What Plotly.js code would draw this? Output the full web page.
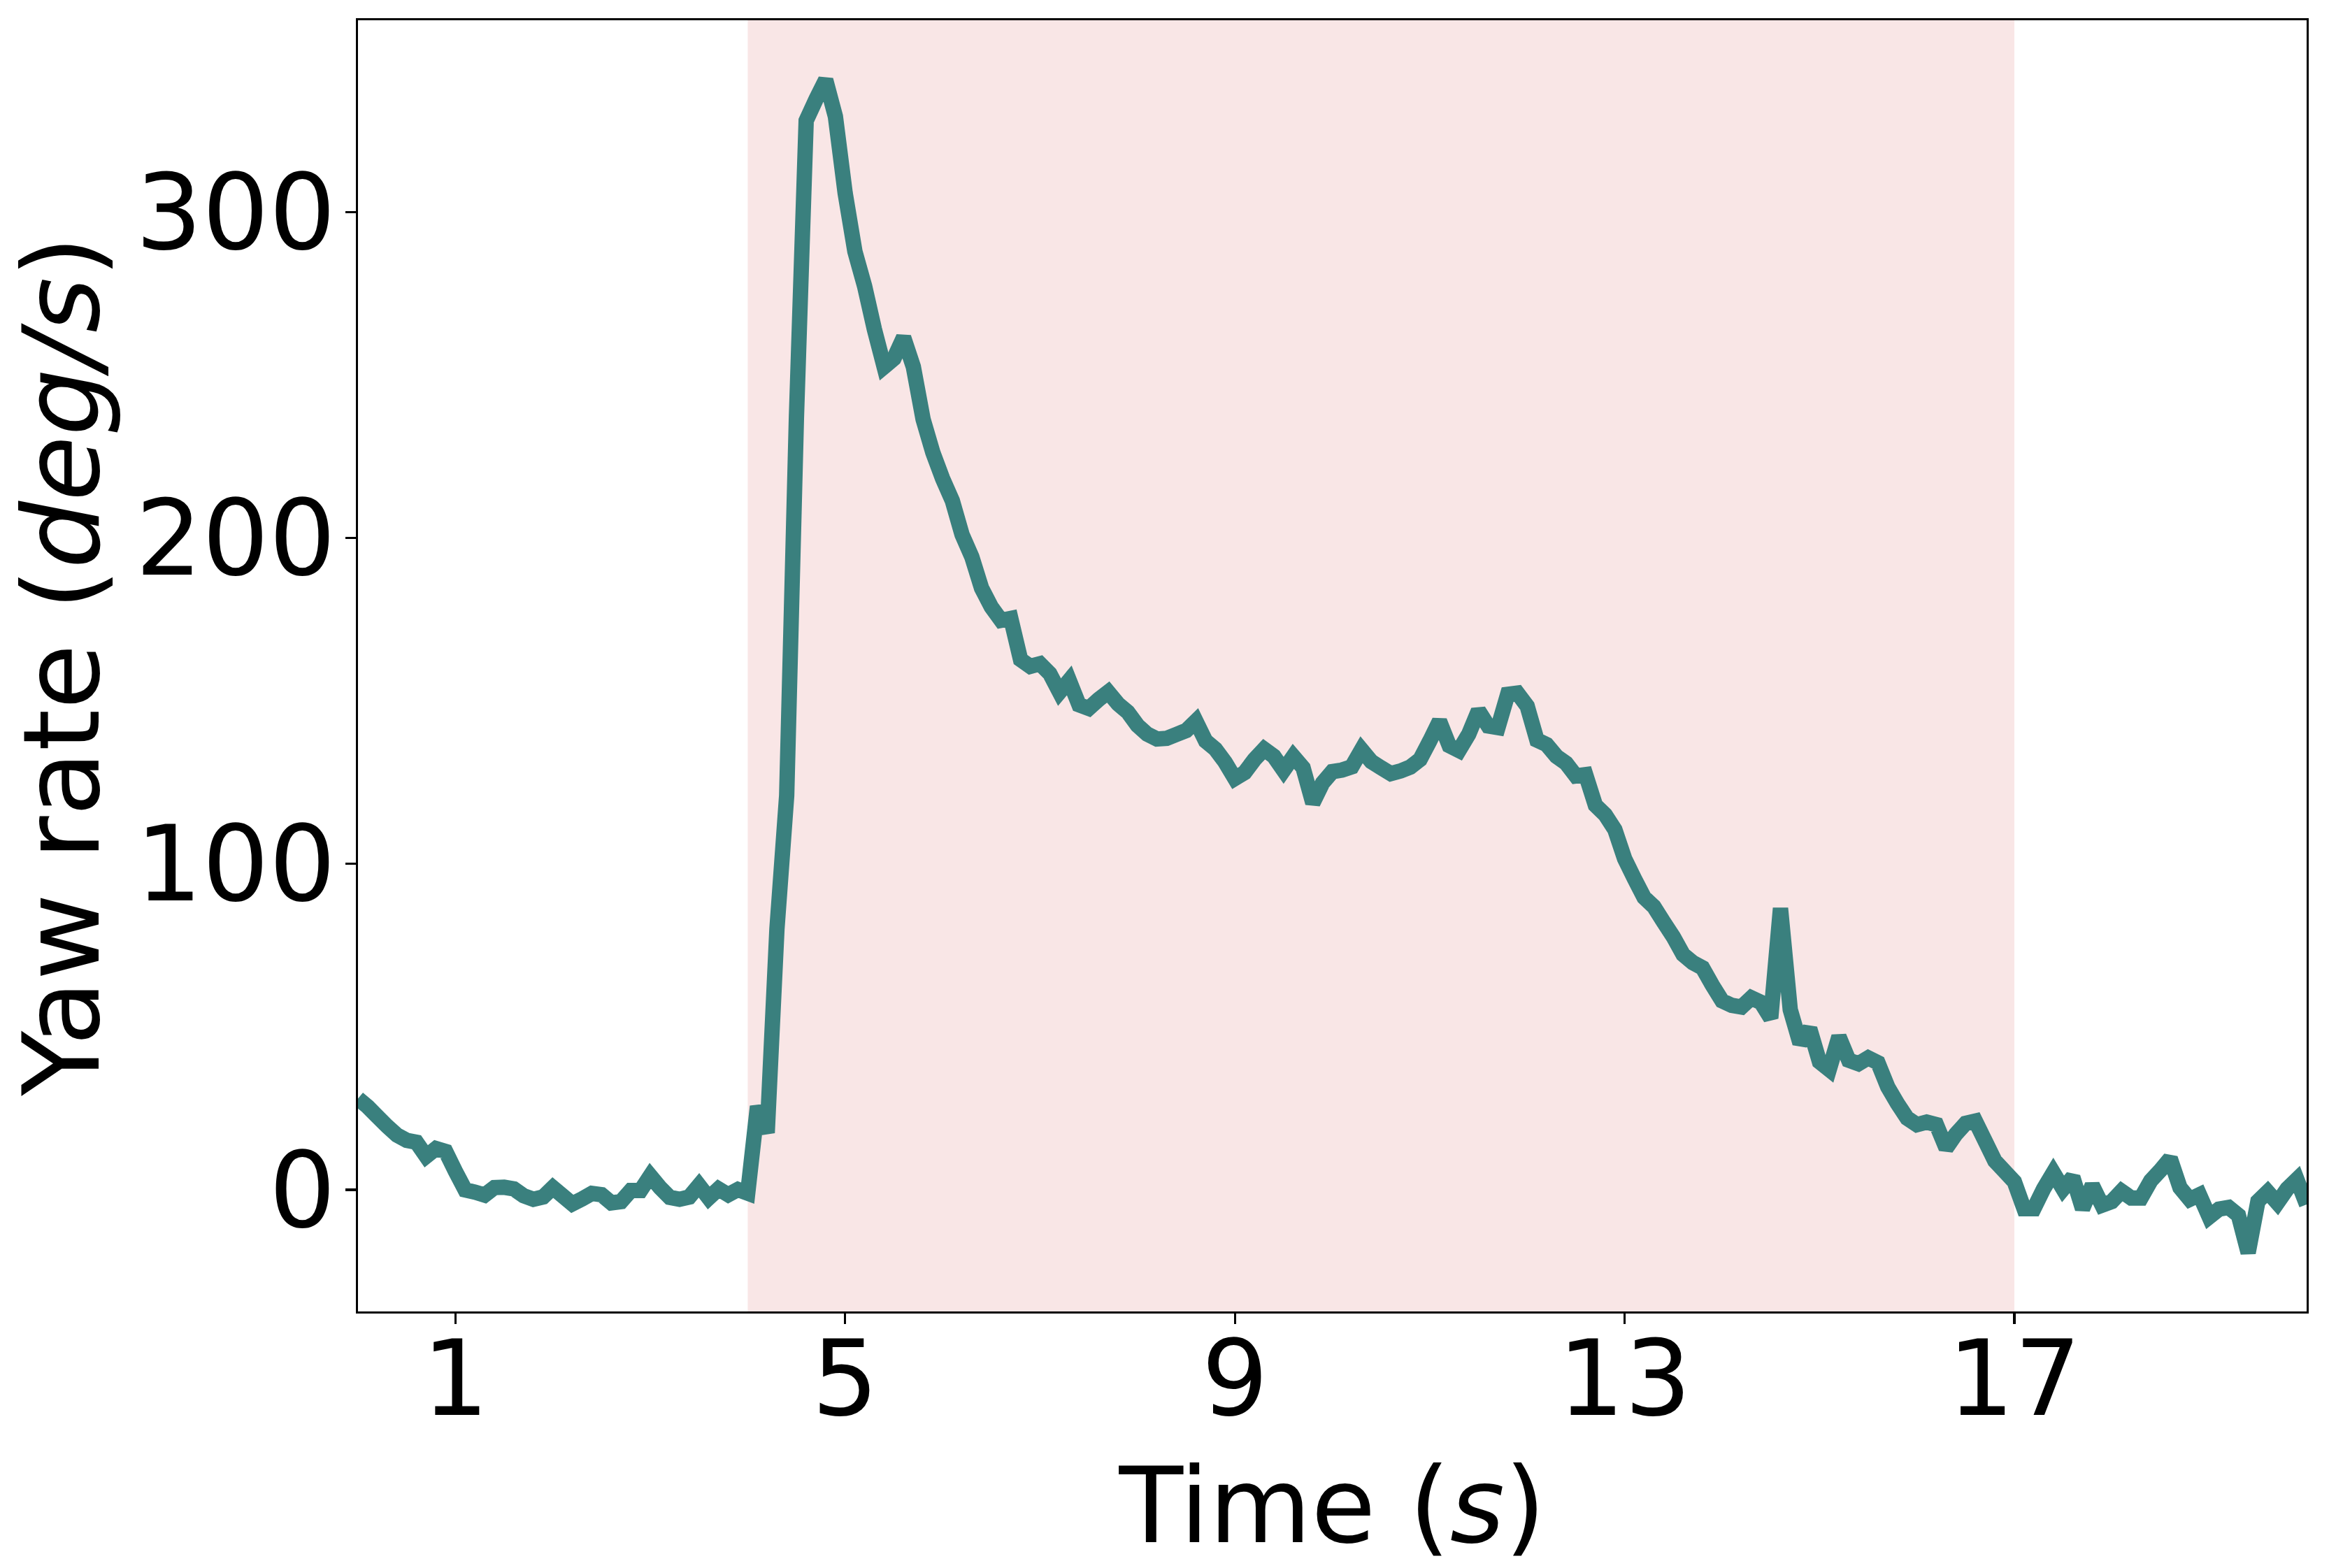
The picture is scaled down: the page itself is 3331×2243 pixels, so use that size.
<!DOCTYPE html>
<html>
<head>
<meta charset="utf-8">
<script src="https://cdn.plot.ly/plotly-3.0.1.min.js"></script>
<style>
  html, body { margin: 0; padding: 0; background: #ffffff; }
  #chart { width: 3331px; height: 2243px; }
</style>
</head>
<body>
<div id="chart"></div>
<script>
// Sampling of the recorded signal (seconds)
const timeStart = 0;
const timeStep = 0.1;

// Yaw rate samples (deg/s), one every 0.1 s from t = 0 to t = 20
const yawRate = [
  28.0, 25.5, 22.5, 19.5, 16.8, 15.2, 14.6, 10.3, 12.7, 11.8,
  5.7, 0.0, -0.7, -1.6, 0.7, 0.8, 0.3, -1.8, -2.9, -2.2,
  0.7, -1.8, -4.3, -2.8, -1.1, -1.5, -4.0, -3.6, -0.2, -0.2,
  4.3, 0.7, -2.3, -2.9, -2.2, 1.4, -2.5, 0.3, -1.5, 0.1,
  -1.0, 25.6, 17.5, 80.0, 121.0, 237.0, 328.0, 334.5, 340.5, 329.3,
  305.8, 287.9, 277.2, 264.0, 252.5, 255.0, 261.5, 252.5, 236.4, 226.2,
  218.2, 211.4, 201.0, 194.2, 184.6, 178.8, 174.7, 175.3, 162.7, 160.6,
  161.4, 158.4, 152.7, 156.3, 148.8, 147.7, 150.4, 152.7, 149.1, 146.6,
  142.5, 139.8, 138.3, 138.5, 139.7, 140.9, 143.8, 137.7, 135.2, 131.2,
  126.2, 128.0, 132.0, 135.2, 133.0, 128.7, 133.0, 129.5, 118.7, 124.8,
  128.3, 128.8, 129.8, 135.0, 131.4, 129.5, 127.7, 128.5, 129.7, 132.0,
  137.7, 143.8, 136.3, 134.8, 139.8, 147.0, 142.3, 141.8, 152.0, 152.4,
  148.4, 138.0, 136.6, 133.0, 130.9, 127.0, 127.4, 118.0, 115.1, 110.5,
  101.6, 95.5, 89.7, 86.9, 82.2, 77.6, 72.2, 69.7, 68.1, 62.8,
  58.0, 56.6, 56.1, 58.9, 57.5, 52.7, 86.4, 55.3, 45.0, 49.4,
  39.3, 36.9, 47.0, 39.8, 38.7, 40.5, 39.0, 31.6, 26.5, 22.0,
  20.0, 20.8, 20.0, 12.8, 17.1, 20.4, 21.1, 15.0, 8.9, 5.7,
  2.5, -5.8, -5.8, 0.3, 5.3, 0.3, 3.9, -5.8, 1.4, -4.7,
  -3.6, -0.4, -2.5, -2.5, 2.8, 6.0, 9.6, 0.7, -2.9, -1.5,
  -8.3, -5.9, -5.4, -7.8, -19.3, -3.5, -0.6, -4.0, 0.3, 3.2,
  -4.5
];

// Highlighted interval (seconds)
const spanStart = 4;
const spanEnd = 17;

// Axis ticks and ranges
const xTicks = [1, 5, 9, 13, 17];
const yTicks = [0, 100, 200, 300];
const xRange = [0, 20];
const yRange = [-37.3, 358.8];

const FONT = 'DejaVu Sans, Liberation Sans, sans-serif';
const SPINE = 3.3;

const trace = {
  type: 'scatter',
  mode: 'lines',
  x0: timeStart,
  dx: timeStep,
  y: yawRate,
  line: { color: '#3a807e', width: 22, shape: 'linear', simplify: false },
  hoverinfo: 'skip',
  showlegend: false
};

const axisCommon = {
  showgrid: false,
  zeroline: false,
  showline: true,
  mirror: true,
  linecolor: '#000000',
  linewidth: SPINE,
  ticks: 'outside',
  ticklen: 14.6,
  tickwidth: SPINE,
  tickcolor: '#000000',
  tickfont: { family: FONT, size: 150, color: '#000000' },
  automargin: false
};

const layout = {
  width: 3331,
  height: 2243,
  paper_bgcolor: '#ffffff',
  plot_bgcolor: '#ffffff',
  margin: { l: 512, r: 32, t: 29, b: 367, pad: 0 },
  font: { family: FONT, color: '#000000' },
  xaxis: Object.assign({}, axisCommon, {
    range: xRange,
    tickmode: 'array',
    tickvals: xTicks,
    ticktext: xTicks.map(String),
    ticklabelstandoff: -50,
    title: { text: 'Time (<i>s</i>)', font: { family: FONT, size: 150, color: '#000000' }, standoff: 44 }
  }),
  yaxis: Object.assign({}, axisCommon, {
    range: yRange,
    tickmode: 'array',
    tickvals: yTicks,
    ticktext: yTicks.map(String),
    ticklabelstandoff: -16,
    title: { text: 'Yaw rate (<i>deg/s</i>)', font: { family: FONT, size: 152, color: '#000000' }, standoff: 36 }
  }),
  shapes: [{
    type: 'rect',
    xref: 'x', yref: 'paper',
    x0: spanStart, x1: spanEnd, y0: 0, y1: 1,
    fillcolor: 'rgb(249,230,230)',
    line: { width: 0 },
    layer: 'below'
  }]
};

Plotly.newPlot('chart', [trace], layout, { displayModeBar: false, staticPlot: true });
</script>
</body>
</html>
